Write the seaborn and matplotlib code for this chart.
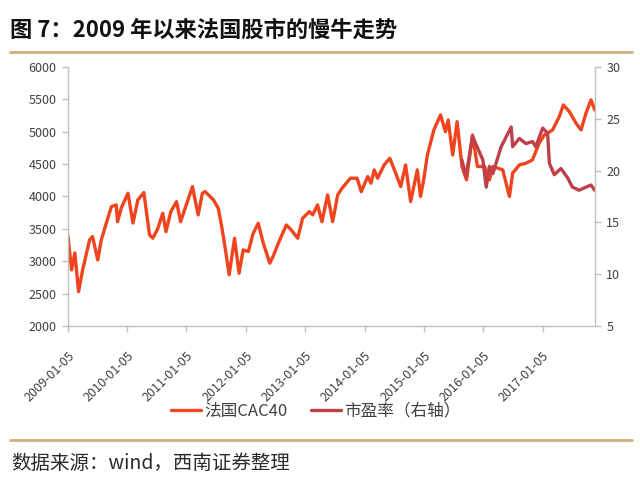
import matplotlib
matplotlib.use('Agg')
import matplotlib.pyplot as plt
import matplotlib.lines as mlines
import seaborn as sns
import pandas as pd

# ---------------- data ----------------
cac_dates = [
    '2009-01-05', '2009-01-28', '2009-02-17', '2009-03-12', '2009-04-06', '2009-05-19',
    '2009-06-06', '2009-07-08', '2009-07-30', '2009-08-30', '2009-09-30', '2009-10-30',
    '2009-11-07', '2009-11-30', '2010-01-10', '2010-02-10', '2010-03-12', '2010-04-18',
    '2010-05-23', '2010-06-12', '2010-07-12', '2010-08-12', '2010-09-01', '2010-10-01',
    '2010-11-05', '2010-11-30', '2011-02-11', '2011-03-18', '2011-04-13', '2011-04-30',
    '2011-06-20', '2011-07-20', '2011-08-10', '2011-08-30', '2011-09-25', '2011-10-28',
    '2011-11-25', '2011-12-20', '2012-01-21', '2012-02-20', '2012-03-22', '2012-04-22',
    '2012-06-01', '2012-06-21', '2012-08-01', '2012-09-11', '2012-10-11', '2012-11-20',
    '2012-12-20', '2013-01-31', '2013-02-20', '2013-03-22', '2013-04-18', '2013-05-23',
    '2013-06-23', '2013-07-24', '2013-08-20', '2013-10-10', '2013-11-20', '2013-12-16',
    '2014-01-25', '2014-02-14', '2014-03-06', '2014-03-27', '2014-05-06', '2014-06-10',
    '2014-07-16', '2014-08-16', '2014-09-15', '2014-10-16', '2014-11-26', '2014-12-16',
    '2015-01-06', '2015-01-27', '2015-03-08', '2015-04-18', '2015-05-18', '2015-06-04',
    '2015-07-02', '2015-07-29', '2015-08-28', '2015-09-25', '2015-11-01', '2015-12-01',
    '2016-01-14', '2016-02-13', '2016-03-05', '2016-05-05', '2016-06-15', '2016-07-05',
    '2016-08-15', '2016-09-25', '2016-11-04', '2016-12-15', '2017-01-16', '2017-03-08',
    '2017-04-18', '2017-05-13', '2017-06-19', '2017-07-30', '2017-08-30', '2017-09-29',
    '2017-10-30', '2017-11-22',
]
cac_values = [
    3406, 2866, 3128, 2530, 2866, 3330,
    3380, 3020, 3330, 3590, 3843, 3870,
    3610, 3823, 4050, 3590, 3947, 4060,
    3406, 3355, 3500, 3740, 3457, 3766,
    3920, 3610, 4152, 3715, 4050, 4075,
    3947, 3818, 3535, 3226, 2790, 3355,
    2815, 3175, 3150, 3432, 3586, 3278,
    2970, 3072, 3330, 3560, 3483, 3355,
    3663, 3766, 3715, 3870, 3610, 4024,
    3610, 4024, 4127, 4282, 4282, 4075,
    4307, 4204, 4410, 4282, 4487, 4590,
    4359, 4152, 4487, 3920, 4410, 4000,
    4282, 4641, 5027, 5259, 5000, 5181,
    4641, 5155, 4462, 4256, 4950, 4462,
    4462, 4256, 4462, 4410, 4000, 4360,
    4487, 4513, 4565, 4822, 4950, 5027,
    5233, 5413, 5310, 5130, 5027, 5284,
    5490, 5336,
]

pe_dates = [
    '2015-08-28', '2015-09-21', '2015-11-01', '2016-01-04', '2016-01-24', '2016-02-13',
    '2016-03-05', '2016-04-25', '2016-06-26', '2016-07-05', '2016-08-15', '2016-09-25',
    '2016-11-04', '2016-11-24', '2017-01-06', '2017-02-05', '2017-02-16', '2017-03-18',
    '2017-04-28', '2017-06-08', '2017-07-08', '2017-08-18', '2017-09-29', '2017-10-30',
    '2017-11-22',
]
pe_values = [
    21.0, 19.4, 23.3, 21.0, 18.4, 20.4,
    19.7, 22.3, 24.2, 22.3, 23.1, 22.6,
    22.8, 22.3, 24.1, 23.6, 20.7, 19.6,
    20.2, 19.3, 18.4, 18.1, 18.4, 18.6,
    18.1,
]

x_tick_labels = ['2009-01-05', '2010-01-05', '2011-01-05', '2012-01-05', '2013-01-05',
                 '2014-01-05', '2015-01-05', '2016-01-05', '2017-01-05']
left_ticks = [2000, 2500, 3000, 3500, 4000, 4500, 5000, 5500, 6000]
right_ticks = [5, 10, 15, 20, 25, 30]

title_text = '图 7：2009 年以来法国股市的慢牛走势'
source_text = '数据来源：wind，西南证券整理'
cac_label = '法国CAC40'
pe_label = '市盈率（右轴）'

CAC_COLOR = '#F0441E'
PE_COLOR = '#BE4149'
AXIS_COLOR = '#BFBFBF'
TEXT_COLOR = '#404040'
GOLD = '#CDB07A'

# ---------------- plot ----------------
sns.set_theme(style='white')
plt.rcParams['font.family'] = ['Noto Sans CJK SC', 'DejaVu Sans']

fig = plt.figure(figsize=(6.4, 4.78), dpi=100)
ax = fig.add_axes([0.106, 0.318, 0.824, 0.542])
ax2 = ax.twinx()

cac_df = pd.DataFrame({'date': pd.to_datetime(cac_dates), 'value': cac_values})
pe_df = pd.DataFrame({'date': pd.to_datetime(pe_dates), 'value': pe_values})

sns.lineplot(data=cac_df, x='date', y='value', ax=ax, color=CAC_COLOR, lw=2.4, legend=False)
sns.lineplot(data=pe_df, x='date', y='value', ax=ax2, color=PE_COLOR, lw=2.4, legend=False)

ax.set_xlim(pd.Timestamp('2009-01-05'), pd.Timestamp('2017-11-25'))
ax.set_ylim(2000, 6000)
ax2.set_ylim(5, 30)
ax.set_yticks(left_ticks)
ax.set_yticklabels([str(v) for v in left_ticks])
ax2.set_yticks(right_ticks)
ax2.set_yticklabels([str(v) for v in right_ticks])
ax.set_xticks(pd.to_datetime(x_tick_labels))
ax.set_xticklabels(x_tick_labels, rotation=45, ha='right', rotation_mode='anchor')
ax.set_xlabel('')
ax.set_ylabel('')
ax2.set_ylabel('')

for a in (ax, ax2):
    a.spines['top'].set_visible(False)
    for s in a.spines.values():
        s.set_color(AXIS_COLOR)
        s.set_linewidth(1.0)
    a.grid(False)
ax.spines['right'].set_visible(False)
ax2.spines['left'].set_visible(False)
ax2.spines['bottom'].set_visible(False)

ax.tick_params(axis='y', left=True, length=4, width=1, color=AXIS_COLOR,
               labelsize=9, labelcolor=TEXT_COLOR, pad=4)
ax.tick_params(axis='x', bottom=True, length=4, width=1, color=AXIS_COLOR,
               labelsize=9, labelcolor=TEXT_COLOR, pad=13)
ax2.tick_params(axis='y', right=True, length=4, width=1, color=AXIS_COLOR,
                labelsize=9, labelcolor=TEXT_COLOR, pad=4)

# legend
h1 = mlines.Line2D([], [], color=CAC_COLOR, lw=2.4)
h2 = mlines.Line2D([], [], color=PE_COLOR, lw=2.4)
fig.legend([h1, h2], [cac_label, pe_label], loc='center', bbox_to_anchor=(0.494, 0.140),
           ncol=2, frameon=False, fontsize=12, handlelength=1.8, handletextpad=0.2,
           columnspacing=1.4, labelcolor=TEXT_COLOR)

# title and source
fig.text(0.016, 0.937, title_text, fontsize=16, fontweight='bold', ha='left', va='center',
         color='#111111')
fig.add_artist(mlines.Line2D([0.016, 0.988], [0.892, 0.892], color=GOLD, lw=2,
                             transform=fig.transFigure))
fig.add_artist(mlines.Line2D([0.016, 0.988], [0.079, 0.079], color=GOLD, lw=2,
                             transform=fig.transFigure))
fig.text(0.018, 0.031, source_text, fontsize=14, ha='left', va='center', color='#2A2A2A',
         style='italic')

fig.savefig('out.png', dpi=100)
